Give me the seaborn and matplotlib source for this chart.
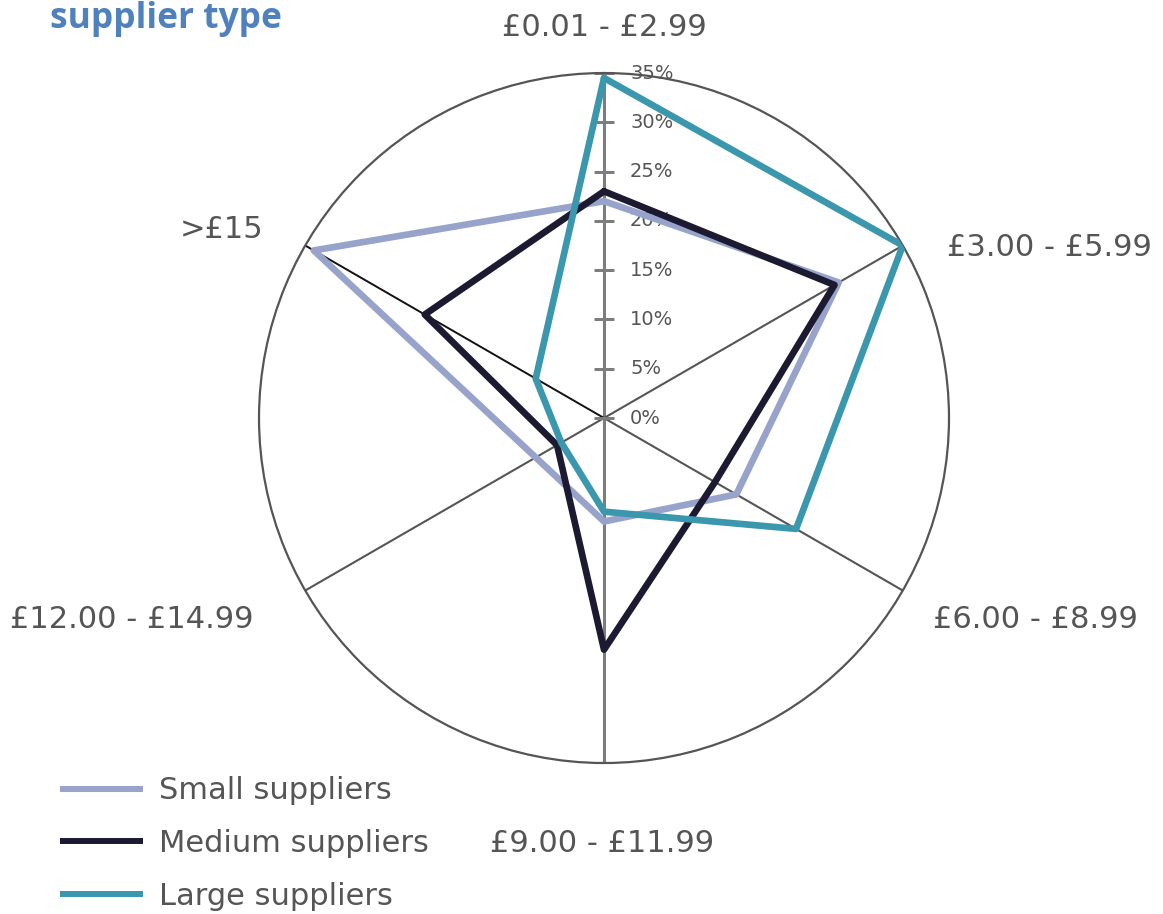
import numpy as np
import pandas as pd
import matplotlib
matplotlib.use("Agg")
import matplotlib.pyplot as plt
import matplotlib.transforms as mtransforms
import seaborn as sns

# Price bands (clockwise from the top) and share of products per supplier type, in %
categories = ["£0.01 - £2.99", "£3.00 - £5.99", "£6.00 - £8.99",
              "£9.00 - £11.99", "£12.00 - £14.99", ">£15"]
small_suppliers = [22.0, 27.5, 15.5, 10.5, 8.0, 34.0]
medium_suppliers = [23.0, 27.0, 13.0, 23.5, 5.5, 21.0]
large_suppliers = [34.5, 35.0, 22.5, 9.5, 5.0, 8.0]
series_names = ["Small suppliers", "Medium suppliers", "Large suppliers"]
radial_ticks = [0, 5, 10, 15, 20, 25, 30, 35]
radial_tick_labels = [f"{t}%" for t in radial_ticks]

colors = {"Small suppliers": "#98A3CC",
          "Medium suppliers": "#1C1A31",
          "Large suppliers": "#3A97AE"}
text_gray = "#555555"

sns.set_theme(style="white")
plt.rcParams["font.family"] = ["DejaVu Sans"]

n = len(categories)
angles = np.arange(n) * 2 * np.pi / n

# long-form table, each polygon closed by repeating its first vertex
rows = []
for name, vals in zip(series_names, [small_suppliers, medium_suppliers, large_suppliers]):
    for k, i in enumerate(list(range(n)) + [0]):
        theta = angles[i] if k < n else 2 * np.pi
        rows.append({"type": name, "theta": theta, "value": vals[i]})
df = pd.DataFrame(rows)

fig = plt.figure(figsize=(11.63, 9.14), dpi=100)
ax = fig.add_axes([0.2227, 0.1652, 0.5933, 0.7549], projection="polar")
ax.set_theta_offset(np.pi / 2)
ax.set_theta_direction(-1)
ax.set_ylim(0, 35)
ax.grid(False)
ax.set_xticks([])
ax.set_yticks([])
ax.spines["polar"].set_color("#555555")
ax.spines["polar"].set_linewidth(1.6)
ax.set_facecolor("none")

# spokes
for i, th in enumerate(angles):
    if i in (0, 3):
        col, lw = "#7d7d7d", 2.2
    elif i == 5:
        col, lw = "#111111", 1.4
    else:
        col, lw = "#555555", 1.5
    ax.plot([th, th], [0, 35], color=col, lw=lw, zorder=1, solid_capstyle="butt")

# radial scale along the vertical spoke
for t, lab in zip(radial_ticks, radial_tick_labels):
    ax.plot([0], [t], marker="_", markersize=15, mew=2.0, color="#7d7d7d", zorder=2)
    off = mtransforms.offset_copy(ax.transData, fig=fig, x=26, y=0, units="dots")
    ax.text(0, t, lab, transform=off, ha="left", va="center", fontsize=14,
            color=text_gray, zorder=2)

sns.lineplot(data=df, x="theta", y="value", hue="type", hue_order=series_names,
             palette=colors, sort=False, estimator=None, lw=4.8, ax=ax, zorder=3)
ax.set_xlabel("")
ax.set_ylabel("")
for line in ax.get_lines()[-3:]:
    line.set_solid_joinstyle("miter")

handles, labels = ax.get_legend_handles_labels()
ax.get_legend().remove()
leg = fig.legend(handles, labels, loc="lower left", bbox_to_anchor=(0.049, 0.0),
                 frameon=False, fontsize=22, handlelength=2.7, handletextpad=0.55,
                 labelspacing=0.78, borderpad=0.1, borderaxespad=0)
for h in leg.get_lines():
    h.set_linewidth(4.3)
    h.set_solid_capstyle("butt")
for t in leg.get_texts():
    t.set_color(text_gray)

# price band labels
label_pos = [(604, 28, "center"), (947, 248, "left"), (933, 619, "left"),
             (602, 844, "center"), (10, 620, "left"), (180, 230, "left")]
for cat, (x, y, ha) in zip(categories, label_pos):
    fig.text(x / 1163, 1 - y / 914, cat, ha=ha, va="center", fontsize=22, color=text_gray)

fig.text(50 / 1163, 1 - 28 / 914, "supplier type", ha="left", va="baseline",
         fontsize=25.5, fontweight="bold", color="#4F81BD", family=["Open Sans", "DejaVu Sans"])

fig.savefig("out.png", dpi=100, facecolor="white")
